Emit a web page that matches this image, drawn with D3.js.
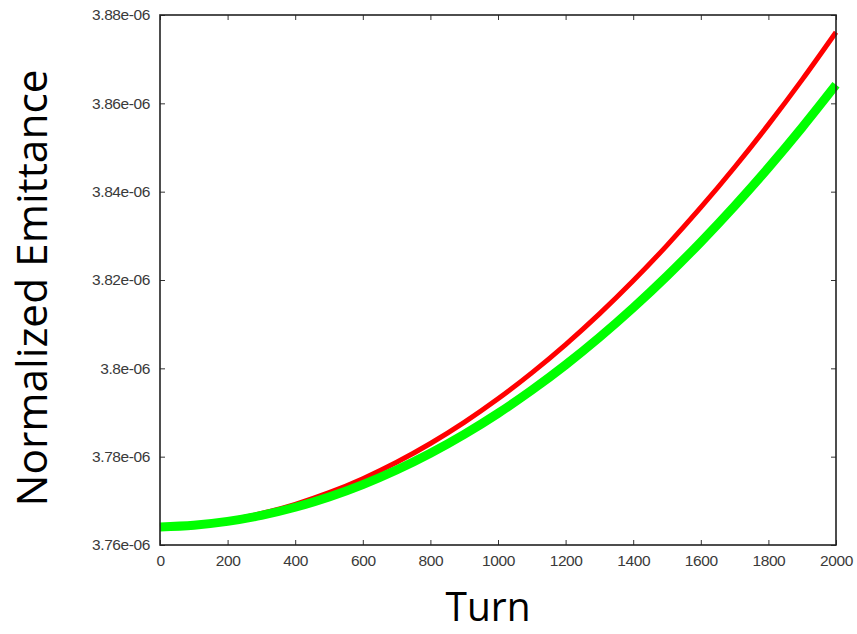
<!DOCTYPE html>
<html>
<head>
<meta charset="utf-8">
<script src="https://cdn.jsdelivr.net/npm/d3@7"></script>
<style>
  html, body { margin: 0; padding: 0; background: #fff; }
  svg { display: block; }
</style>
</head>
<body>
<script>
// ---- data ----
const turns = [0,100,200,300,400,500,600,700,800,900,1000,1100,1200,1300,1400,1500,1600,1700,1800,1900,2000];
const redEmittance = [3.76410,3.76457,3.76558,3.76713,3.76922,3.77185,3.77502,3.77873,3.78298,3.78777,3.79310,3.79897,3.80538,3.81233,3.81982,3.82785,3.83642,3.84553,3.85518,3.86537,3.87610].map(v => v * 1e-6);
const greenEmittance = [3.76410,3.76448,3.76534,3.76670,3.76854,3.77086,3.77368,3.77698,3.78076,3.78504,3.78980,3.79505,3.80078,3.80701,3.81372,3.82091,3.82860,3.83677,3.84542,3.85457,3.86420].map(v => v * 1e-6);
const xTicks = [0,200,400,600,800,1000,1200,1400,1600,1800,2000];
const yTicks = [3.76e-6,3.78e-6,3.80e-6,3.82e-6,3.84e-6,3.86e-6,3.88e-6];
const yTickLabels = ["3.76e-06","3.78e-06","3.8e-06","3.82e-06","3.84e-06","3.86e-06","3.88e-06"];
const xTitle = "Turn";
const yTitle = "Normalized Emittance";

// ---- layout ----
const W = 857, H = 634;
const mLeft = 160, mRight = 836, mTop = 15, mBottom = 545;

const svg = d3.select("body").append("svg").attr("width", W).attr("height", H);

const x = d3.scaleLinear().domain([0, 2000]).range([mLeft, mRight]);
const y = d3.scaleLinear().domain([3.76e-6, 3.88e-6]).range([mBottom, mTop]);

const tickFont = "'Liberation Sans', Arial, sans-serif";
const tickColor = "#3a3a3a";
const tickLen = 5;

const axBottom = d3.axisBottom(x).tickValues(xTicks).tickSize(-tickLen).tickPadding(10).tickFormat(d3.format("d"));
const axTop = d3.axisTop(x).tickValues(xTicks).tickSize(-tickLen).tickFormat("");
const axLeft = d3.axisLeft(y).tickValues(yTicks).tickSize(-tickLen).tickPadding(10).tickFormat((d, i) => yTickLabels[i]);
const axRight = d3.axisRight(y).tickValues(yTicks).tickSize(-tickLen).tickFormat("");

function styleAxis(g) {
  g.select(".domain").remove();
  g.selectAll(".tick line").attr("stroke", "#333").attr("stroke-width", 1);
  g.selectAll(".tick text").attr("fill", tickColor).style("font-family", tickFont)
    .style("font-size", "15.5px").style("letter-spacing", "-0.4px");
}

svg.append("g").attr("transform", `translate(0,${mBottom})`).call(axBottom).call(styleAxis);
svg.append("g").attr("transform", `translate(0,${mTop})`).call(axTop).call(styleAxis);
svg.append("g").attr("transform", `translate(${mLeft},0)`).call(axLeft).call(styleAxis);
svg.append("g").attr("transform", `translate(${mRight},0)`).call(axRight).call(styleAxis);

const line = d3.line().x((d, i) => x(turns[i])).y(d => y(d)).curve(d3.curveMonotoneX);

svg.append("path").datum(redEmittance)
  .attr("d", line).attr("fill", "none").attr("stroke", "#ff0000").attr("stroke-width", 5);
svg.append("path").datum(greenEmittance)
  .attr("d", line).attr("fill", "none").attr("stroke", "#00ff00").attr("stroke-width", 9);

svg.append("rect").attr("x", mLeft).attr("y", mTop).attr("width", mRight - mLeft).attr("height", mBottom - mTop)
  .attr("fill", "none").attr("stroke", "#222").attr("stroke-width", 1.6);

const titleFont = "'Open Sans', 'Noto Sans', sans-serif";
svg.append("text").text(xTitle)
  .attr("x", 488).attr("y", 621).attr("text-anchor", "middle")
  .attr("textLength", 85).attr("lengthAdjust", "spacingAndGlyphs")
  .style("font-family", titleFont).style("font-size", "40px").attr("fill", "#000");

svg.append("text").text(yTitle)
  .attr("transform", "translate(47,288) rotate(-90)").attr("text-anchor", "middle")
  .attr("textLength", 437).attr("lengthAdjust", "spacingAndGlyphs")
  .style("font-family", titleFont).style("font-size", "42px").attr("fill", "#000");
</script>
</body>
</html>
